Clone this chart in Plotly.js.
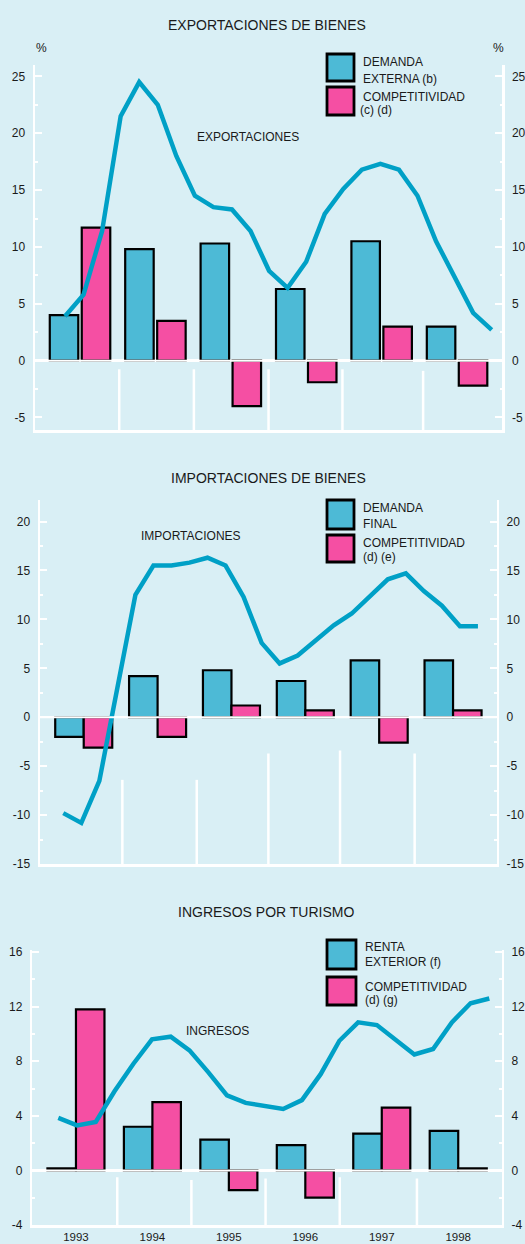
<!DOCTYPE html>
<html>
<head>
<meta charset="utf-8">
<script src="https://cdn.plot.ly/plotly-3.0.1.min.js"></script>
<style>
  html, body { margin: 0; padding: 0; background: #d9eff5; }
  #chart { width: 525px; height: 1244px; }
</style>
</head>
<body>
<div id="chart"></div>
<script>
// ---------- DATA ----------
const years = ['1993', '1994', '1995', '1996', '1997', '1998'];
const quarterNames = ['I', 'II', 'III', 'IV'];

// Exportaciones de bienes
const expDemandaExterna = [4.0, 9.8, 10.3, 6.3, 10.5, 3.0];
const expCompetitividad = [11.7, 3.5, -4.0, -1.9, 3.0, -2.2];
const expLinea = [3.9, 5.8, 11.4, 21.5, 24.5, 22.5, 18.0, 14.5, 13.5, 13.3, 11.4, 7.9,
                  6.4, 8.7, 12.9, 15.1, 16.8, 17.3, 16.8, 14.5, 10.5, 7.4, 4.2, 2.7];
const expTickVals = [-5, 0, 5, 10, 15, 20, 25];
const expTickText = ['-5', '0', '5', '10', '15', '20', '25'];

// Importaciones de bienes
const impDemandaFinal = [-2.0, 4.2, 4.8, 3.7, 5.8, 5.8];
const impCompetitividad = [-3.1, -2.0, 1.2, 0.7, -2.6, 0.7];
const impLinea = [-9.8, -10.8, -6.5, 3.2, 12.5, 15.5, 15.5, 15.8, 16.3, 15.5, 12.3, 7.6,
                  5.5, 6.3, 7.9, 9.4, 10.6, 12.3, 14.1, 14.7, 12.9, 11.4, 9.3, 9.3];
const impTickVals = [-15, -10, -5, 0, 5, 10, 15, 20];
const impTickText = ['-15', '-10', '-5', '0', '5', '10', '15', '20'];

// Ingresos por turismo
const turRentaExterior = [0.15, 3.2, 2.25, 1.85, 2.7, 2.9];
const turCompetitividad = [11.8, 5.0, -1.45, -2.0, 4.6, 0.15];
const turLinea = [3.85, 3.3, 3.55, 5.8, 7.8, 9.6, 9.8, 8.8, 7.2, 5.5, 4.95, 4.75,
                  4.5, 5.15, 7.05, 9.5, 10.85, 10.65, 9.55, 8.5, 8.9, 10.85, 12.25, 12.6];
const turTickVals = [-4, 0, 4, 8, 12, 16];
const turTickText = ['-4', '0', '4', '8', '12', '16'];

const quarters = [];
years.forEach(y => quarterNames.forEach(q => quarters.push(q + ' ' + y)));

// ---------- STYLE ----------
const W = 525, H = 1244;
const BG = '#d9eff5';
const BLUE = '#4dbad6';
const PINK = '#f54fa3';
const LINE = '#00a0c6';
const TXT = '#1a1a1a';
const FONT = 'Liberation Sans, Arial, Helvetica, sans-serif';
const px = x => x / W;
const py = y => 1 - y / H;

const yStyle = {
  showline: true, linecolor: 'white', linewidth: 2.5,
  ticks: 'inside', ticklen: 7, tickwidth: 2, tickcolor: 'white',
  showgrid: false, zeroline: true, zerolinecolor: 'white', zerolinewidth: 2.5,
  tickfont: {size: 12, color: TXT, family: FONT}, fixedrange: true,
  ticklabelstandoff: 5
};

const panels = [
  {xa: 'x', ya: 'y', xl: 'x2', yl: 'y2', xd: [35, 502], yd: [65, 430], range: [-6.1, 26],
   xr: [-0.597, 5.596], xlr: [-1.617, 23.555], tv: expTickVals, tt: expTickText, minorStep: 2.5,
   bars: [expDemandaExterna, expCompetitividad], line: expLinea,
   width: 0.378, offs: [-0.401, 0.023], showYears: false,
   seps: [0.52, 1.51, 2.5, 3.48, 4.55], sepTop: [-0.76, -0.76, -0.76, -0.76, -0.9]},
  {xa: 'x3', ya: 'y3', xl: 'x4', yl: 'y4', xd: [40, 496.7], yd: [500, 864], range: [-15, 22.2],
   xr: [-0.592, 5.591], xlr: [-1.292, 24.04], tv: impTickVals, tt: impTickText, minorStep: 2.5,
   bars: [impDemandaFinal, impCompetitividad], line: impLinea,
   width: 0.386, offs: [-0.386, 0.0], showYears: false,
   seps: [0.523, 1.53, 2.5, 3.47, 4.48], sepTop: [-6.4, -6.4, -3.7, -3.4, -3.7]},
  {xa: 'x5', ya: 'y5', xl: 'x6', yl: 'y6', xd: [32.3, 501.5], yd: [950, 1225], range: [-4, 16.15],
   xr: [-0.571, 5.566], xlr: [-1.387, 23.65], tv: turTickVals, tt: turTickText, minorStep: 2,
   bars: [turRentaExterior, turCompetitividad], line: turLinea,
   width: 0.373, offs: [-0.373, 0.0], showYears: true,
   seps: [0.54, 1.51, 2.48, 3.45, 4.46], sepTop: [-0.5, -0.7, -0.6, -0.5, -0.6]}
];

const data = [];
const layout = {
  width: W, height: H,
  margin: {l: 0, r: 0, t: 0, b: 0},
  paper_bgcolor: BG, plot_bgcolor: BG,
  showlegend: false, barmode: 'overlay',
  font: {family: FONT, color: TXT, size: 12},
  shapes: [], annotations: []
};

panels.forEach(p => {
  const xdom = [px(p.xd[0]), px(p.xd[1])];
  const ydom = [py(p.yd[1]), py(p.yd[0])];
  const xk = p.xa === 'x' ? 'xaxis' : 'xaxis' + p.xa.slice(1);
  const yk = p.ya === 'y' ? 'yaxis' : 'yaxis' + p.ya.slice(1);
  const xlk = 'xaxis' + p.xl.slice(1);
  const ylk = 'yaxis' + p.yl.slice(1);
  const minor = {dtick: p.minorStep, tick0: 0, ticks: 'inside', ticklen: 2.5, tickwidth: 2, tickcolor: 'white'};

  layout[xk] = {
    domain: xdom, anchor: p.ya, type: 'category', range: p.xr,
    showline: true, linecolor: 'white', linewidth: 2.5, showgrid: false, zeroline: false,
    ticks: '', showticklabels: p.showYears, tickfont: {size: 11.5, color: TXT, family: FONT},
    ticklabelstandoff: 0, fixedrange: true
  };
  layout[yk] = Object.assign({}, yStyle, {
    domain: ydom, anchor: p.xa, range: p.range,
    tickmode: 'array', tickvals: p.tv, ticktext: p.tt, minor: minor
  });
  layout[xlk] = {overlaying: p.xa, anchor: p.ya, type: 'category', range: p.xlr, visible: false, fixedrange: true};
  layout[ylk] = Object.assign({}, yStyle, {
    overlaying: p.ya, side: 'right', anchor: p.xa, range: p.range,
    tickmode: 'array', tickvals: p.tv, ticktext: p.tt, minor: minor
  });

  // bars
  [BLUE, PINK].forEach((c, i) => {
    data.push({
      type: 'bar', x: years, y: p.bars[i], xaxis: p.xa, yaxis: p.ya,
      width: p.width, offset: p.offs[i],
      marker: {color: c, line: {color: '#000', width: 2.2}},
      hoverinfo: 'skip'
    });
  });
  // line
  data.push({
    type: 'scatter', mode: 'lines', x: quarters, y: p.line, xaxis: p.xl, yaxis: p.yl,
    line: {color: LINE, width: 4.5}, hoverinfo: 'skip', cliponaxis: false
  });

  // separators between years
  p.seps.forEach((s, i) => {
    layout.shapes.push({
      type: 'line', xref: p.xa, yref: p.ya, x0: s, x1: s, y0: p.range[0], y1: p.sepTop[i],
      line: {color: 'white', width: 2.5}, layer: 'below'
    });
  });
  // zero line cover
  layout.shapes.push({
    type: 'line', xref: 'paper', yref: p.ya, x0: xdom[0], x1: xdom[1], y0: 0, y1: 0,
    line: {color: 'white', width: 2}, layer: 'above'
  });
});

// titles and inner labels
function ann(text, x, y, size, anchor) {
  layout.annotations.push({
    text: text, xref: 'paper', yref: 'paper', x: px(x), y: py(y),
    xanchor: anchor || 'center', yanchor: 'middle', showarrow: false, borderpad: 0,
    font: {size: size, color: TXT, family: FONT}
  });
}
ann('EXPORTACIONES DE BIENES', 267, 25, 14);
ann('IMPORTACIONES DE BIENES', 268, 478.3, 14);
ann('INGRESOS POR TURISMO', 266, 911.7, 14);
ann('EXPORTACIONES', 248.3, 137.3, 12);
ann('IMPORTACIONES', 191, 535.7, 12);
ann('INGRESOS', 217.5, 1030.7, 12);
ann('%', 41, 48.3, 12);
ann('%', 498.5, 48.3, 12);

// legends
function legBox(x0, y0, x1, y1, color) {
  layout.shapes.push({
    type: 'rect', xref: 'paper', yref: 'paper', x0: px(x0), x1: px(x1), y0: py(y1), y1: py(y0),
    fillcolor: color, line: {color: '#000', width: 2.8}, layer: 'above'
  });
}
legBox(327, 54, 354, 81, BLUE);
legBox(327, 87, 354, 115, PINK);
ann('DEMANDA', 361.7, 62, 12, 'left');
ann('EXTERNA (b)', 361.7, 78.7, 12, 'left');
ann('COMPETITIVIDAD', 361.7, 96.7, 12, 'left');
ann('(c) (d)', 359.3, 110, 12, 'left');

legBox(327, 500, 354, 529, BLUE);
legBox(327, 535, 354, 562, PINK);
ann('DEMANDA', 361.7, 508.3, 12, 'left');
ann('FINAL', 361.7, 524.3, 12, 'left');
ann('COMPETITIVIDAD', 361.7, 543.3, 12, 'left');
ann('(d) (e)', 361.7, 557.3, 12, 'left');

legBox(327, 940, 356, 969, BLUE);
legBox(327, 977, 356, 1005, PINK);
ann('RENTA', 364, 946.7, 12, 'left');
ann('EXTERIOR (f)', 364, 962.3, 12, 'left');
ann('COMPETITIVIDAD', 364, 986.7, 12, 'left');
ann('(d) (g)', 364, 1000, 12, 'left');

Plotly.newPlot('chart', data, layout, {staticPlot: true, displayModeBar: false});
</script>
</body>
</html>
